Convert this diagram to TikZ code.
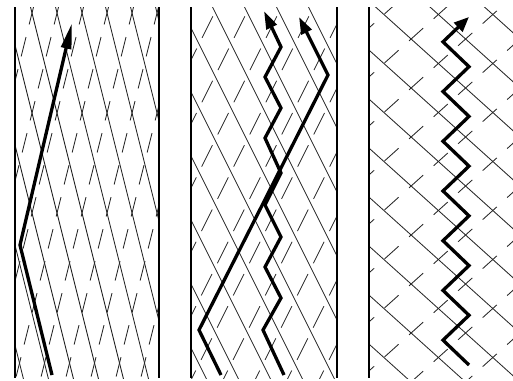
\documentclass[tikz,border=0pt]{standalone}
\usetikzlibrary{arrows.meta}

\begin{document}
\begin{tikzpicture}[
        x=1pt, y=-1pt,
        wall/.style={line width=2.6pt, draw=black},
        ray/.style={line width=0.85pt, draw=black!85},
        mirror/.style={line width=0.85pt, draw=black!85, dash pattern=on 20pt off 13pt},
        trail/.style={line width=3.3pt, draw=black, line join=miter}
    ]
        \useasboundingbox (0,0) rectangle (513,380);

        % Lattice, left panel
        \begin{scope}
            \clip (15,7) rectangle (159,378);
            \foreach \k in {-5,...,6}
                \draw[ray] ({22+25*\k},-27) -- ++(110,440);
            \foreach \k in {-1,...,10}
                \draw[mirror] ({42+25*\k},-27) -- ++(-110,440);
        \end{scope}

        % Lattice, middle panel
        \begin{scope}
            \clip (191,7) rectangle (337,378);
            \foreach \k in {-7,...,5}
                \draw[ray] ({185+32*\k},-48) -- ++(220,440);
            \foreach \k in {-1,...,10}
                \draw[mirror, dash pattern=on 24pt off 12pt] ({245+32*\k},-48) -- ++(-220,440);
        \end{scope}

        % Lattice, right panel
        \begin{scope}
            \clip (369,7) rectangle (513,378);
            \foreach \k in {-4,...,7}
                \draw[ray] (360,{42+49*\k}) -- ++(160,144);
            \foreach \k in {0,...,10}
                \draw[mirror, dash pattern=on 19pt off 14pt] (360,{36+49*\k}) -- ++(160,-144);
        \end{scope}

        % Walls
        \draw[wall] (15,7) -- (15,378);
        \draw[wall] (159,7) -- (159,378);
        \draw[wall] (191,7) -- (191,378);
        \draw[wall] (337,7) -- (337,378);
        \draw[wall] (369,7) -- (369,378);

        % Path points
        \coordinate (p0) at (52,375);
        \coordinate (p1) at (20,245);
        \coordinate (p2) at (72,23);
        \foreach \n/\x/\y in {0/221/375, 1/199/330, 2/328/75, 3/299/17}
            \coordinate (a\n) at (\x,\y);
        \foreach \n/\x/\y in {0/284/375, 1/263/330, 2/281/298, 3/265/267, 4/281/237, 5/265/205,
                6/281/173, 7/265/138, 8/281/108, 9/265/77, 10/281/47, 11/264/11}
            \coordinate (b\n) at (\x,\y);
        \foreach \n in {0,...,14}
            \coordinate (c\n) at ({ifthenelse(isodd(\n),443,469)},{365-24.86*\n});

        % Paths
        \draw[trail, -{Triangle[length=26pt,width=10pt]}] (p0) -- (p1) -- (p2);
        \draw[trail, -{Triangle[length=17pt,width=11pt]}] (a0) -- (a1) -- (a2) -- (a3);
        \draw[trail, -{Triangle[length=18pt,width=11pt]}] (b0) \foreach \n in {1,...,11} { -- (b\n) };
        \draw[trail, -{Triangle[length=15pt,width=12pt]}] (c0) \foreach \n in {1,...,14} { -- (c\n) };
    \end{tikzpicture}
\end{document}
